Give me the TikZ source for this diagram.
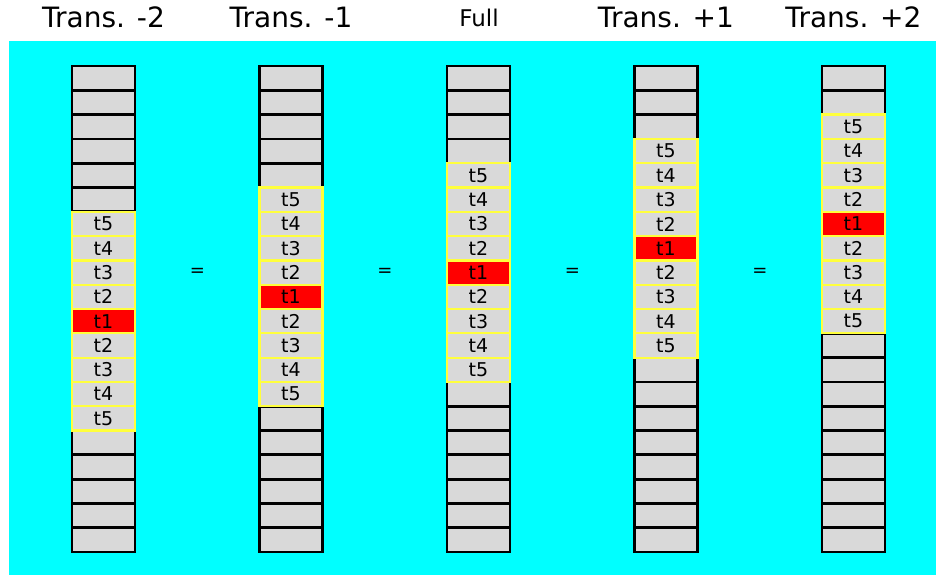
\documentclass[tikz,border=0pt]{standalone}
\usepackage{fontspec}
\setmainfont{DejaVu Sans}
\definecolor{bgcyan}{HTML}{00FFFF}
\definecolor{cellgray}{HTML}{D9D9D9}
\definecolor{celly}{HTML}{FFFF3C}
\definecolor{cellred}{HTML}{FF0000}
\begin{document}
\begin{tikzpicture}[x=1pt,y=-1pt,
  cellbox/.style={draw=black,fill=cellgray,line width=2.8pt,minimum width=63pt,minimum height=24.3pt,inner sep=0pt,outer sep=0pt},
  tcell/.style={cellbox,draw=celly,line width=2.2pt,font=\fontsize{19}{19}\selectfont},
  redcell/.style={tcell,fill=cellred},
  titletext/.style={font=\fontsize{28}{28}\selectfont,anchor=base},
  eqsign/.style={font=\fontsize{18}{18}\selectfont}]
\useasboundingbox (0,0) rectangle (936,575);
\fill[bgcyan] (9,41) rectangle (936,575);
\foreach \c/\k in {0/6,1/5,2/4,3/3,4/2}{
  \pgfmathsetmacro{\cx}{103.5+187.5*\c}
  % empty cells first
  \foreach \i in {0,...,19}{
    \pgfmathsetmacro{\cy}{66+24.3*\i+12.15}
    \node[cellbox] (c\c r\i) at (\cx,\cy) {};
  }
  % labelled cells on top
  \foreach \j in {0,...,8}{
    \pgfmathtruncatemacro{\i}{\k+\j}
    \pgfmathsetmacro{\cy}{66+24.3*\i+12.15}
    \pgfmathtruncatemacro{\lab}{abs(\j-4)+1}
    \ifnum\lab=1
      \node[redcell] (t\c r\i) at (\cx,\cy) {t\lab};
    \else
      \node[tcell] (t\c r\i) at (\cx,\cy) {t\lab};
    \fi
  }
}
\node[titletext] (h0) at (103.5,28) {Trans. -2};
\node[titletext] (h1) at (291,28) {Trans. -1};
\node[titletext,font=\fontsize{23}{23}\selectfont] (h2) at (479,27) {Full};
\node[titletext] (h3) at (666,28) {Trans. +1};
\node[titletext] (h4) at (853.5,28) {Trans. +2};
\node[eqsign] (e0) at (197.5,272) {=};
\node[eqsign] (e1) at (385,272) {=};
\node[eqsign] (e2) at (572.5,272) {=};
\node[eqsign] (e3) at (760,272) {=};
\end{tikzpicture}
\end{document}
